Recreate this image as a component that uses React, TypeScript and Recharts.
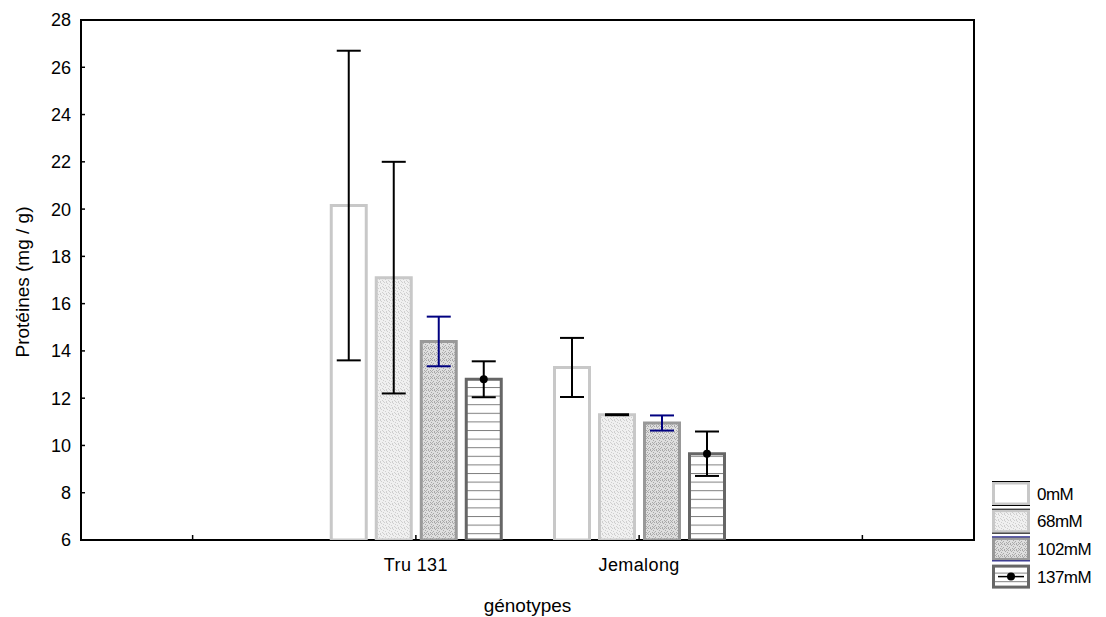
import { BarChart, Bar, XAxis, YAxis, ErrorBar, ReferenceArea } from 'recharts';

const genotypes = ['', 'Tru 131', 'Jemalong', ' '];
const series = ['0mM', '68mM', '102mM', '137mM'];
// means per genotype (empty categories on both sides, as in the original plot)
const mean0 = [null, 20.15, 13.3, null];
const mean68 = [null, 17.1, 11.3, null];
const mean102 = [null, 14.4, 10.95, null];
const mean137 = [null, 12.8, 9.65, null];
// half-width of the error bars
const err0 = [null, 6.55, 1.25, null];
const err68 = [null, 4.9, 0.02, null];
const err102 = [null, 1.05, 0.32, null];
const err137 = [null, 0.76, 0.94, null];
const yTicks = [6, 8, 10, 12, 14, 16, 18, 20, 22, 24, 26, 28];

const data = genotypes.map((g, i) => ({
  name: g,
  m0: mean0[i], m68: mean68[i], m102: mean102[i], m137: mean137[i],
  e0: err0[i], e68: err68[i], e102: err102[i], e137: err137[i],
}));

const FONT = '"Liberation Sans", Arial, sans-serif';

const STYLES = [
  { key: '0', fill: '#ffffff', stroke: '#c8c8c8', err: '#000000' },
  { key: '68', fill: 'url(#p68)', stroke: '#c8c8c8', err: '#000000' },
  { key: '102', fill: 'url(#p102)', stroke: '#999999', err: '#000080' },
  { key: '137', fill: 'url(#p137)', stroke: '#666666', err: '#000000' },
];

// scattered pixels so the stipple does not read as stripes
const DOTS = [[0, 0], [3, 1], [5, 2], [1, 3], [4, 4], [2, 5], [5, 5], [2, 0]];

function Patterns({ prefix = '' }: { prefix?: string }) {
  return (
    <defs>
      <pattern id={prefix + 'p68'} width={6} height={6} patternUnits="userSpaceOnUse">
        <rect width={6} height={6} fill="#f0f0f0" />
        {DOTS.map(([x, y], i) => <rect key={i} x={x} y={y} width={1} height={1} fill="#cfcfcf" />)}
      </pattern>
      <pattern id={prefix + 'p102'} width={6} height={6} patternUnits="userSpaceOnUse">
        <rect width={6} height={6} fill="#dedede" />
        {DOTS.map(([x, y], i) => <rect key={i} x={x} y={y} width={1} height={1} fill="#a8a8a8" />)}
        <rect x={4} y={0} width={1} height={1} fill="#b0b0b0" />
        <rect x={0} y={4} width={1} height={1} fill="#b0b0b0" />
      </pattern>
      <pattern id={prefix + 'p137'} width={8} height={8.6} patternUnits="userSpaceOnUse">
        <rect width={8} height={8.6} fill="#ffffff" />
        <line x1={0} y1={0.5} x2={8} y2={0.5} stroke="#808080" strokeWidth={1} />
      </pattern>
    </defs>
  );
}

const YTick = ({ x, y, payload }: any) => (
  <g>
    <line x1={x + 10} y1={y} x2={x + 14} y2={y} stroke="#000" strokeWidth={1.5} />
    <text x={x} y={y} dy="0.36em" textAnchor="end" fontSize={18} fontFamily={FONT} fill="#000">
      {payload.value}
    </text>
  </g>
);

const XTick = ({ x, y, payload }: any) => (
  <g>
    <line x1={x} y1={y - 5} x2={x} y2={y} stroke="#000" strokeWidth={1.5} />
    <text x={x} y={y + 25} dy="0.36em" textAnchor="middle" fontSize={18} fontFamily={FONT} fill="#000"
      letterSpacing={0.4}>
      {payload.value.trim()}
    </text>
  </g>
);

const MeanDot = (p: any) => {
  if (p.value == null) return null;
  return <circle cx={p.x + p.width / 2} cy={p.y} r={4} fill="#000" />;
};

function Legend() {
  return (
    <svg width={116} height={120} style={{ position: 'absolute', left: 990, top: 478 }}>
      <Patterns prefix="lg" />
      {series.map((s, i) => {
        const st = STYLES[i];
        const y = 5 + i * 27.7;
        const fill = st.fill.startsWith('url') ? `url(#lgp${st.key})` : st.fill;
        return (
          <g key={s}>
            <rect x={3.5} y={y} width={35} height={21} fill={fill} stroke={st.stroke} strokeWidth={3} />
            {i < 3 ? (
              <>
                <line x1={2} y1={y - 1.5} x2={40} y2={y - 1.5} stroke={st.err} strokeWidth={1} />
                <line x1={2} y1={y + 22.5} x2={40} y2={y + 22.5} stroke={st.err} strokeWidth={1} />
              </>
            ) : (
              <>
                <line x1={8} y1={y + 10.5} x2={34} y2={y + 10.5} stroke="#000" strokeWidth={1.5} />
                <circle cx={21} cy={y + 10.5} r={4} fill="#000" />
              </>
            )}
            <text x={47} y={y + 10.5} dy="0.36em" fontSize={17} fontFamily={FONT} fill="#000" letterSpacing={-0.5}>
              {s}
            </text>
          </g>
        );
      })}
    </svg>
  );
}

export default function App() {
  return (
    <div style={{ position: 'absolute', left: 0, top: 0, width: 1106, height: 617, background: '#fff' }}>
      <BarChart
        width={1106}
        height={617}
        data={data}
        margin={{ top: 20, right: 132, bottom: 0, left: 0 }}
        barSize={35}
        barGap={10}
      >
        <Patterns />
        <XAxis
          dataKey="name"
          height={77}
          axisLine={false}
          tickLine={false}
          tickSize={0}
          tickMargin={0}
          interval={0}
          tick={<XTick />}
          label={{
            content: ({ viewBox }: any) => (
              <text x={viewBox.x + viewBox.width / 2} y={viewBox.y + 65} dy="0.36em" textAnchor="middle"
                fontSize={19} fontFamily={FONT} fill="#000">génotypes</text>
            ),
          }}
        />
        <YAxis
          width={81}
          domain={[6, 28]}
          ticks={yTicks}
          allowDataOverflow
          axisLine={false}
          tickLine={false}
          tickSize={0}
          tickMargin={10}
          tick={<YTick />}
          label={{
            content: ({ viewBox }: any) => {
              const cx = 22;
              const cy = viewBox.y + viewBox.height / 2 + 2;
              return (
                <text x={cx} y={cy} dy="0.36em" textAnchor="middle" transform={`rotate(-90 ${cx} ${cy})`}
                  fontSize={19} fontFamily={FONT} fill="#000">Protéines (mg / g)</text>
              );
            },
          }}
        />
        <ReferenceArea y1={6} y2={28} fill="none" fillOpacity={0} stroke="#000" strokeWidth={2} />
        {STYLES.map((st) => (
          <Bar
            key={st.key}
            dataKey={'m' + st.key}
            name={st.key + 'mM'}
            fill={st.fill}
            stroke={st.stroke}
            strokeWidth={3}
            isAnimationActive={false}
            label={st.key === '137' ? <MeanDot /> : undefined}
          >
            <ErrorBar dataKey={'e' + st.key} width={12} stroke={st.err} strokeWidth={2} direction="y" />
          </Bar>
        ))}
      </BarChart>
      <Legend />
    </div>
  );
}
